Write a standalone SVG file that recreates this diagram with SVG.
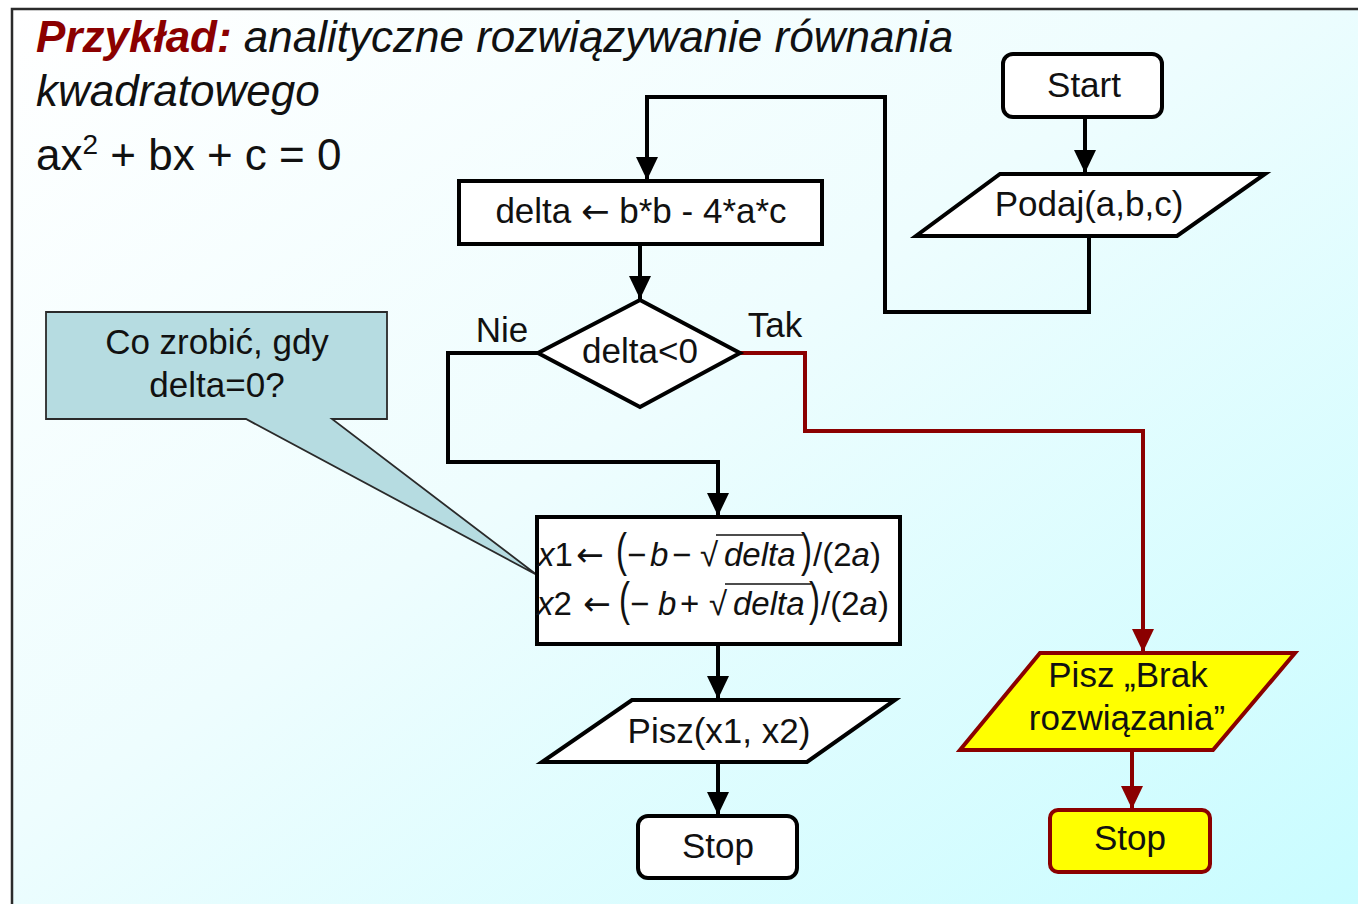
<svg xmlns="http://www.w3.org/2000/svg" width="1358" height="904" viewBox="0 0 1358 904">
  <defs>
    <linearGradient id="bg" x1="0" y1="0" x2="1" y2="1">
      <stop offset="0" stop-color="#ffffff"/>
      <stop offset="0.45" stop-color="#eefdfe"/>
      <stop offset="1" stop-color="#c8fcff"/>
    </linearGradient>
    <marker id="ah" markerUnits="userSpaceOnUse" markerWidth="24" markerHeight="24" refX="23" refY="12" orient="auto">
      <path d="M0,1 L23,12 L0,23 z" fill="#000"/>
    </marker>
    <marker id="ahRed" markerUnits="userSpaceOnUse" markerWidth="24" markerHeight="24" refX="23" refY="12" orient="auto">
      <path d="M0,1 L23,12 L0,23 z" fill="#8b0000"/>
    </marker>
  </defs>
  <style>
    text { font-family: "Liberation Sans", Arial, sans-serif; fill: #111; }
    .node { fill: #fff; stroke: #000; stroke-width: 4; stroke-linejoin: miter; }
    .warn { fill: #ffff00; stroke: #8b0000; stroke-width: 4; }
    .lbl { font-size: 35px; text-anchor: middle; }
    .edge { fill: none; stroke: #000; stroke-width: 4; marker-end: url(#ah); }
    .edge.red { stroke: #8b0000; marker-end: url(#ahRed); }
    .title { font-size: 44px; }
    .f { font-size: 33px; }
    .it { font-style: italic; }
    .arr { font-family: "DejaVu Sans", sans-serif; }
  </style>

  <!-- slide background and frame -->
  <rect x="0" y="0" width="1358" height="904" fill="#ffffff"/>
  <rect x="12" y="9" width="1360" height="910" fill="url(#bg)" stroke="#2b2b2b" stroke-width="2.5"/>

  <!-- heading -->
  <g id="heading">
    <text class="title" x="36" y="52"><tspan font-weight="bold" font-style="italic" fill="#8b0000">Przykład:</tspan><tspan font-style="italic"> analityczne rozwiązywanie równania</tspan></text>
    <text class="title it" x="36" y="106">kwadratowego</text>
    <text class="title" x="36" y="170">ax<tspan font-size="28px" dy="-16">2</tspan><tspan dy="16"> + bx + c = 0</tspan></text>
  </g>

  <!-- connectors -->
  <g id="connectors">
    <path class="edge" d="M1085,118 V173"/>
    <path class="edge" d="M1089,237 V312 H885 V97 H647 V180"/>
    <path class="edge" d="M640,245 V299"/>
    <path class="edge" d="M538,353 H448 V462 H718 V516"/>
    <path class="edge red" d="M740,353 H805 V431 H1143 V652"/>
    <path class="edge" d="M718,645 V699"/>
    <path class="edge" d="M718,763 V815"/>
    <path class="edge red" d="M1132,751 V809"/>
  </g>

  <!-- comment callout -->
  <g id="callout">
    <path d="M46,312 H387 V419 H332 L537,575 L246,419 H46 Z" fill="#b6dce1" stroke="#2a2a2a" stroke-width="1.8" stroke-linejoin="miter"/>
    <text class="lbl" x="217" y="354">Co zrobić, gdy</text>
    <text class="lbl" x="217" y="397">delta=0?</text>
  </g>

  <g id="start">
    <rect class="node" x="1003" y="54" width="159" height="63" rx="10"/>
    <text class="lbl" x="1084" y="97">Start</text>
  </g>

  <g id="input">
    <polygon class="node" points="1000,174 1265,174 1177,236 916,236"/>
    <text class="lbl" x="1089" y="216">Podaj(a,b,c)</text>
  </g>

  <g id="delta">
    <rect class="node" x="459" y="181" width="363" height="63"/>
    <text class="lbl" x="641" y="223">delta <tspan class="arr" font-size="34px">←</tspan> b*b - 4*a*c</text>
  </g>

  <g id="decision">
    <polygon class="node" points="640,300 740,353 640,407 538,353"/>
    <text class="lbl" x="640" y="363">delta&lt;0</text>
    <text class="lbl" x="502" y="342">Nie</text>
    <text class="lbl" x="775" y="337">Tak</text>
  </g>

  <g id="roots">
    <rect class="node" x="537" y="517" width="363" height="127"/>
    <!-- x1 line -->
    <text class="f" x="538" y="566"><tspan class="it">x</tspan>1</text>
    <text class="f arr" font-size="34px" x="576" y="566">←</text>
    <text class="f" transform="translate(616,566) scale(1,1.4)" x="0" y="0">(</text>
    <text class="f" x="627" y="566">−</text>
    <text class="f it" x="650" y="566">b</text>
    <text class="f" x="672" y="566">−</text>
    <text class="f" x="700" y="566">√</text>
    <line x1="716" y1="535" x2="803" y2="535" stroke="#111" stroke-width="1.5"/>
    <text class="f it" x="724" y="566">delta</text>
    <text class="f" transform="translate(801,566) scale(1,1.4)" x="0" y="0">)</text>
    <text class="f" x="813" y="566">/(2<tspan class="it">a</tspan>)</text>
    <!-- x2 line -->
    <text class="f" x="537" y="615"><tspan class="it">x</tspan>2</text>
    <text class="f arr" font-size="34px" x="583" y="615">←</text>
    <text class="f" transform="translate(619,615) scale(1,1.4)" x="0" y="0">(</text>
    <text class="f" x="630" y="615">−</text>
    <text class="f it" x="658" y="615">b</text>
    <text class="f" x="680" y="615">+</text>
    <text class="f" x="709" y="615">√</text>
    <line x1="725" y1="584" x2="811" y2="584" stroke="#111" stroke-width="1.5"/>
    <text class="f it" x="733" y="615">delta</text>
    <text class="f" transform="translate(809,615) scale(1,1.4)" x="0" y="0">)</text>
    <text class="f" x="821" y="615">/(2<tspan class="it">a</tspan>)</text>
  </g>

  <g id="output">
    <polygon class="node" points="632,700 895,700 807,762 542,762"/>
    <text class="lbl" x="719" y="743">Pisz(x1, x2)</text>
  </g>

  <g id="stop">
    <rect class="node" x="638" y="816" width="159" height="62" rx="10"/>
    <text class="lbl" x="718" y="858">Stop</text>
  </g>

  <g id="no-solution">
    <polygon class="warn" points="1040,653 1295,653 1213,750 960,750"/>
    <text class="lbl" x="1128" y="687">Pisz „Brak</text>
    <text class="lbl" x="1127" y="730">rozwiązania”</text>
  </g>

  <g id="stop-no-solution">
    <rect class="warn" x="1050" y="810" width="160" height="62" rx="8"/>
    <text class="lbl" x="1130" y="850">Stop</text>
  </g>
</svg>
